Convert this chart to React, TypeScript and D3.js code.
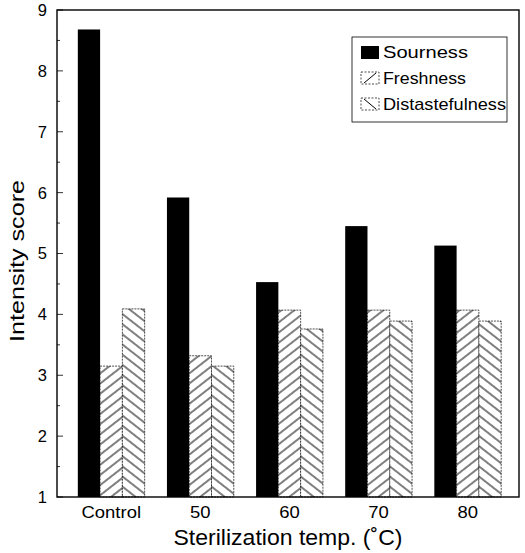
import React from "react";
import * as d3 from "d3";

const categories = ["Control", "50", "60", "70", "80"];
const seriesNames = ["Sourness", "Freshness", "Distastefulness"];
const sourness = [8.68, 5.92, 4.53, 5.45, 5.13];
const freshness = [3.15, 3.32, 4.07, 4.07, 4.07];
const distastefulness = [4.09, 3.15, 3.76, 3.89, 3.89];
const yTicks = [1, 2, 3, 4, 5, 6, 7, 8, 9];
const yMinorTicks = [1.5, 2.5, 3.5, 4.5, 5.5, 6.5, 7.5, 8.5];

const W = 525, H = 553;
const left = 57, right = 519, top = 10, bottom = 497;
const FONT = "'Liberation Sans', Arial, Helvetica, sans-serif";
const legendWidths = [85, 83, 123];

export default function App() {
  const y = d3.scaleLinear().domain([1, 9]).range([bottom, top]);
  const x0 = d3.scaleBand().domain(categories).range([left + 3, right]).paddingInner(0.25).paddingOuter(0.2);
  const x1 = d3.scaleBand().domain(seriesNames).range([0, x0.bandwidth()]);
  const values = [sourness, freshness, distastefulness];
  const fills = ["#000", "url(#hatchF)", "url(#hatchD)"];

  return (
    <svg width={W} height={H} style={{ position: "absolute", left: 0, top: 0, background: "#fff" }}>
      <defs>
        <pattern id="hatchF" patternUnits="userSpaceOnUse" width="20" height="8" patternTransform="rotate(-38)">
          <rect width="20" height="8" fill="#fff" />
          <line x1="0" x2="20" y1="4" y2="4" stroke="#000" strokeWidth="1" />
        </pattern>
        <pattern id="hatchD" patternUnits="userSpaceOnUse" width="20" height="8" patternTransform="rotate(38)">
          <rect width="20" height="8" fill="#fff" />
          <line x1="0" x2="20" y1="4" y2="4" stroke="#000" strokeWidth="1" />
        </pattern>
      </defs>
      {categories.map((c, i) => (
        <g key={c} transform={`translate(${x0(c)},0)`}>
          {seriesNames.map((s, j) => (
            <rect
              key={s}
              x={x1(s)}
              y={y(values[j][i])}
              width={x1.bandwidth()}
              height={bottom - y(values[j][i])}
              fill={fills[j]}
              stroke="#000"
              strokeWidth={j === 0 ? 0 : 0.7}
              strokeDasharray={j === 0 ? undefined : "2,1"}
            />
          ))}
        </g>
      ))}
      <rect x={left} y={top} width={right - left} height={bottom - top} fill="none" stroke="#000" strokeWidth={1.4} />
      {yTicks.map((t) => (
        <g key={t}>
          <line x1={left} x2={left + 6} y1={y(t)} y2={y(t)} stroke="#000" strokeWidth={0.8} />
          <text x={47} y={y(t)} dy="0.36em" textAnchor="end" fontFamily={FONT} fontSize={16.5}>{t}</text>
        </g>
      ))}
      {yMinorTicks.map((t) => (
        <line key={t} x1={left} x2={left + 3} y1={y(t)} y2={y(t)} stroke="#000" strokeWidth={0.8} />
      ))}
      {categories.map((c) => (
        <g key={c} transform={`translate(${(x0(c) as number) + x0.bandwidth() / 2},518) scale(1.12,1)`}>
          <text x={0} y={0} textAnchor="middle" fontFamily={FONT} fontSize={16.5}>{c}</text>
        </g>
      ))}
      <text x={288} y={545} textAnchor="middle" fontFamily={FONT} fontSize={22.5} textLength={229} lengthAdjust="spacingAndGlyphs">Sterilization temp. (˚C)</text>
      <text transform={`translate(24,261) rotate(-90)`} textAnchor="middle" fontFamily={FONT} fontSize={21} textLength={162} lengthAdjust="spacingAndGlyphs">Intensity score</text>
      <g>
        <rect x={352} y={37} width={155} height={85} fill="#fff" stroke="#000" strokeWidth={0.8} />
        {seriesNames.map((s, j) => (
          <g key={s} transform={`translate(361,${46 + j * 26})`}>
            {j === 0 ? (
              <rect x={0} y={0} width={18} height={13} fill="#000" />
            ) : (
              <g>
                <rect x={0} y={0} width={18} height={12} fill="#fff" stroke="#000" strokeWidth={0.7} strokeDasharray="2,1.5" />
                {j === 1 ? (
                  <line x1={3} y1={11} x2={15} y2={1} stroke="#000" strokeWidth={1} />
                ) : (
                  <line x1={3} y1={1} x2={15} y2={11} stroke="#000" strokeWidth={1} />
                )}
              </g>
            )}
            <text x={22} y={12} fontFamily={FONT} fontSize={17} textLength={legendWidths[j]} lengthAdjust="spacingAndGlyphs">{s}</text>
          </g>
        ))}
      </g>
    </svg>
  );
}
